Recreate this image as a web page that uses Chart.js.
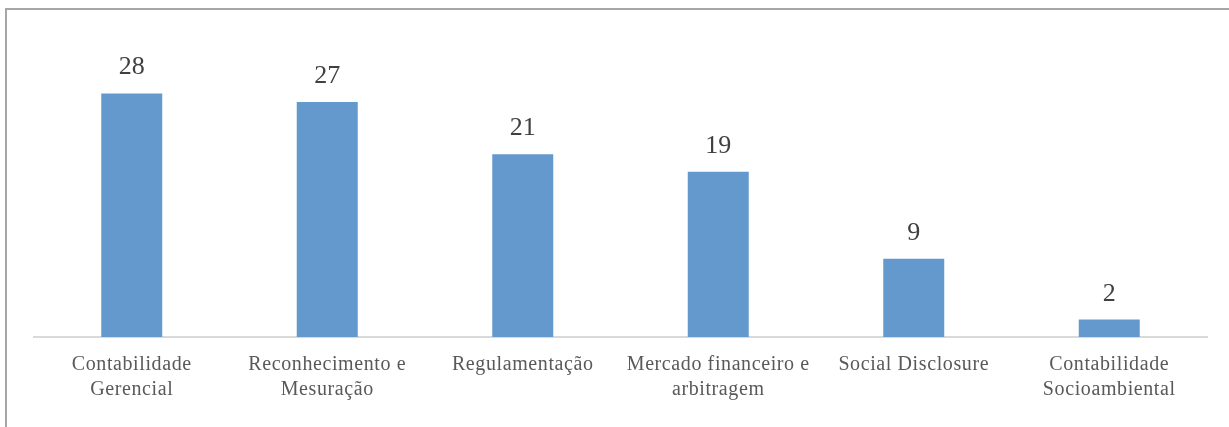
<!DOCTYPE html>
<html>
<head>
<meta charset="utf-8">
<script src="https://cdn.jsdelivr.net/npm/chart.js@4/dist/chart.umd.min.js"></script>
<style>
html,body{margin:0;padding:0;background:#fff;}
#wrap{width:1229px;height:427px;position:relative;}
</style>
</head>
<body>
<div id="wrap"><canvas id="c" width="1229" height="427"></canvas></div>
<script>
const categories = [
  ["Contabilidade", "Gerencial"],
  ["Reconhecimento e", "Mesuração"],
  ["Regulamentação"],
  ["Mercado financeiro e", "arbitragem"],
  ["Social Disclosure"],
  ["Contabilidade", "Socioambiental"]
];
const values = [28, 27, 21, 19, 9, 2];

const frame = {
  id: 'frame',
  beforeDraw(chart) {
    const ctx = chart.ctx;
    ctx.strokeStyle = '#a6a6a6';
    ctx.lineWidth = 2;
    ctx.beginPath();
    ctx.moveTo(6, 427);
    ctx.lineTo(6, 9);
    ctx.lineTo(1229, 9);
    ctx.stroke();
    ctx.letterSpacing = '0.6px';
  }
};

const valueLabels = {
  id: 'valueLabels',
  afterDatasetsDraw(chart) {
    const ctx = chart.ctx;
    const meta = chart.getDatasetMeta(0);
    ctx.save();
    ctx.letterSpacing = '0px';
    ctx.font = '26px "Liberation Serif", "Times New Roman", serif';
    ctx.fillStyle = '#404040';
    ctx.textAlign = 'center';
    ctx.textBaseline = 'alphabetic';
    meta.data.forEach((bar, i) => {
      ctx.fillText(String(values[i]), bar.x, bar.y - 19);
    });
    ctx.restore();
  }
};

new Chart(document.getElementById('c'), {
  type: 'bar',
  data: {
    labels: categories,
    datasets: [{
      data: values,
      backgroundColor: '#6499CD',
      borderWidth: 0,
      categoryPercentage: 1,
      barPercentage: 0.312
    }]
  },
  options: {
    responsive: false,
    animation: false,
    layout: { padding: { left: 34, right: 22, top: 76, bottom: 0 } },
    plugins: { legend: { display: false }, tooltip: { enabled: false } },
    scales: {
      y: { display: false, min: 0, max: 30 },
      x: {
        grid: { display: false, drawTicks: false },
        border: { display: true, color: '#d9d9d9', width: 2 },
        ticks: {
          color: '#595959',
          font: { family: '"Liberation Serif", "Times New Roman", serif', size: 20, lineHeight: 1.25 },
          padding: 15,
          maxRotation: 0,
          autoSkip: false
        },
        afterFit(scale) { scale.height = 90; }
      }
    }
  },
  plugins: [frame, valueLabels]
});
</script>
</body>
</html>
